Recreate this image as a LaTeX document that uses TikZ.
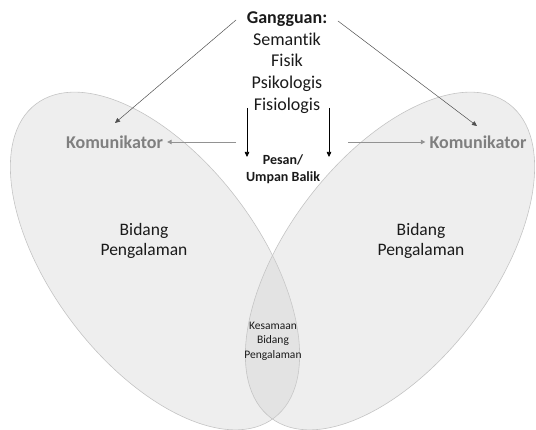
\documentclass[tikz,border=0pt]{standalone}
\usepackage{fontspec}
\setmainfont{Carlito}[Ligatures={NoCommon}]
\usetikzlibrary{arrows.meta}
\definecolor{ellfill}{HTML}{CFCFCF}
\definecolor{elldraw}{HTML}{C4C4C4}
\definecolor{komgray}{HTML}{7F7F7F}
\definecolor{txt}{HTML}{1A1A1A}
\definecolor{diag}{HTML}{505050}
\tikzset{
  x=1pt,y=1pt,
  ell/.style={fill=ellfill,fill opacity=0.35,draw=elldraw,line width=0.6pt},
  kom/.style={font=\fontsize{18}{20}\selectfont\bfseries,text=komgray,inner sep=0pt},
  big/.style={font=\fontsize{18}{21.7}\selectfont,text=txt,align=center,inner sep=0pt},
  grayarrow/.style={draw=komgray!85,line width=0.9pt,-{Triangle[length=4.5pt,width=4.5pt]}},
  blackarrow/.style={draw=black,line width=0.7pt,-{Triangle[length=5pt,width=4.5pt]}},
  diagarrow/.style={draw=diag,line width=0.5pt,-{Triangle[length=5pt,width=4.5pt]}}
}
\begin{document}
\begin{tikzpicture}
\useasboundingbox (0,0) rectangle (536,430);
\clip (0,0) rectangle (536,430);
% ellipses
\draw[ell,shift={(155,169)},rotate=-52.8] (0,0) ellipse [x radius=197,y radius=103];
\draw[ell,shift={(390,169)},rotate=52.8] (0,0) ellipse [x radius=197,y radius=103];
% texts
\node[big] (gang) at (287,367.5) {\textbf{Gangguan:}\\Semantik\\Fisik\\Psikologis\\Fisiologis};
\node[font=\fontsize{14}{17.5}\selectfont\bfseries,text=txt,align=center,inner sep=0pt] (pesan) at (283,261) {Pesan/\\Umpan Balik};
\node[kom] (komL) at (114.5,288) {Komunikator};
\node[kom] (komR) at (478,288) {Komunikator};
\node[big,font=\fontsize{17.5}{20}\selectfont] (bpL) at (144,189) {Bidang\\Pengalaman};
\node[big,font=\fontsize{17.5}{20}\selectfont] (bpR) at (421,189) {Bidang\\Pengalaman};
\node[font=\fontsize{11.5}{14.5}\selectfont,text=txt,align=center,inner sep=0pt] (kes) at (273,89) {Kesamaan\\Bidang\\Pengalaman};
% connector endpoints
\coordinate (gl) at (236,410);
\coordinate (gr) at (338,409);
\coordinate (kLtop) at (115,307);
\coordinate (kRtop) at (477,304);
\coordinate (hl) at (236,288);
\coordinate (hr) at (348,288);
\coordinate (vl1) at (247,322);
\coordinate (vl2) at (247,273);
\coordinate (vr1) at (329,322);
\coordinate (vr2) at (329,273);
% connectors
\draw[diagarrow] (gl) -- (kLtop);
\draw[diagarrow] (gr) -- (kRtop);
\draw[grayarrow] (hl) -- ([xshift=4pt]komL.east |- hl);
\draw[grayarrow] (hr) -- ([xshift=-4pt]komR.west |- hr);
\draw[blackarrow] (vl1) -- (vl2);
\draw[blackarrow] (vr1) -- (vr2);
\end{tikzpicture}
\end{document}
